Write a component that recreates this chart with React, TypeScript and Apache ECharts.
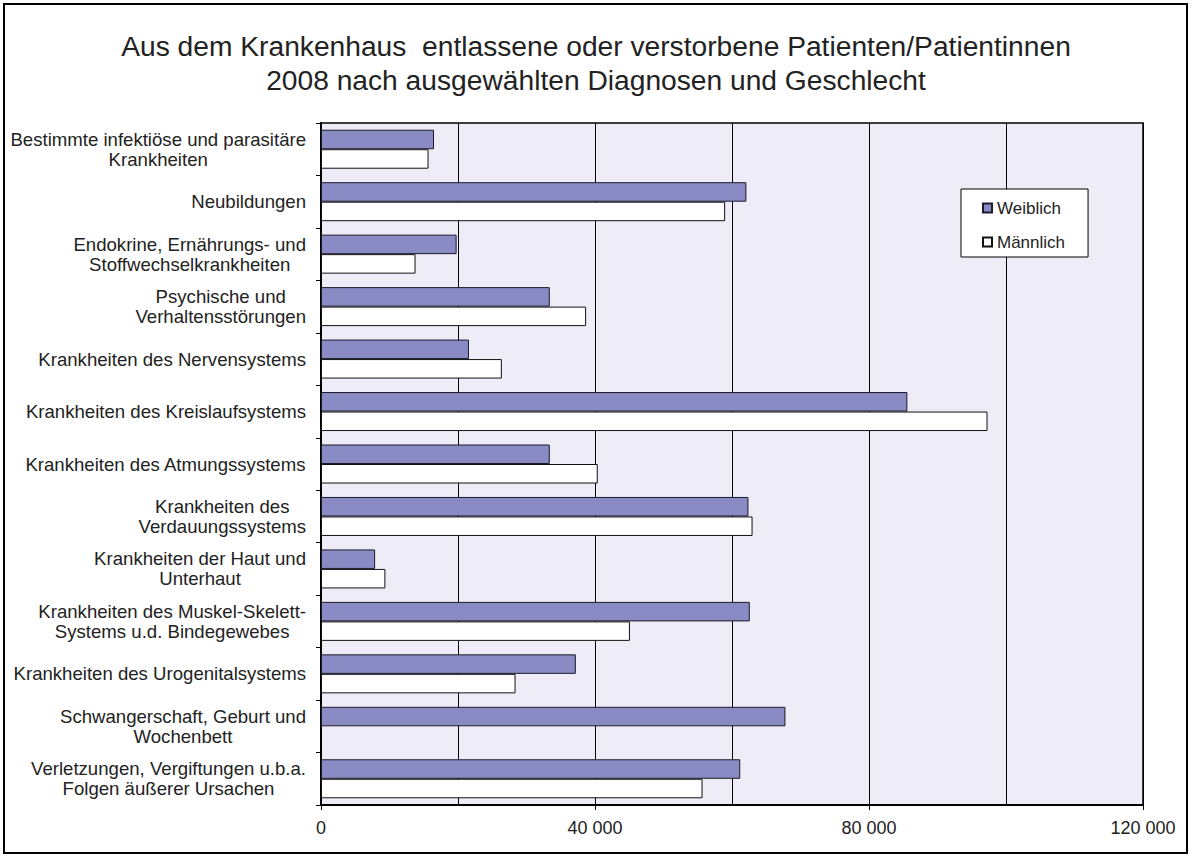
import React, { useEffect, useRef } from 'react';
import * as echarts from 'echarts';

const titleLines = [
  'Aus dem Krankenhaus  entlassene oder verstorbene Patienten/Patientinnen',
  '2008 nach ausgewählten Diagnosen und Geschlecht',
];

const categories = [
  'Bestimmte infektiöse und parasitäre\nKrankheiten',
  'Neubildungen',
  'Endokrine, Ernährungs- und\nStoffwechselkrankheiten',
  'Psychische und\nVerhaltensstörungen',
  'Krankheiten des Nervensystems',
  'Krankheiten des Kreislaufsystems',
  'Krankheiten des Atmungssystems',
  'Krankheiten des\nVerdauungssystems',
  'Krankheiten der Haut und\nUnterhaut',
  'Krankheiten des Muskel-Skelett-\nSystems u.d. Bindegewebes',
  'Krankheiten des Urogenitalsystems',
  'Schwangerschaft, Geburt und\nWochenbett',
  'Verletzungen, Vergiftungen u.b.a.\nFolgen äußerer Ursachen',
];

const seriesNames = ['Weiblich', 'Männlich'];
const weiblich = [16500, 62100, 19800, 33400, 21600, 85600, 33400, 62400, 7900, 62600, 37200, 67800, 61200];
const maennlich = [15700, 59000, 13800, 38700, 26400, 97300, 40400, 63000, 9400, 45100, 28400, null, 55700];

const xMin = 0;
const xMax = 120000;
const xLabelStep = 40000;

const fmt = (v: number) => String(v).replace(/\B(?=(\d{3})+(?!\d))/g, ' ');

export default function App() {
  const ref = useRef<HTMLDivElement>(null);
  useEffect(() => {
    const chart = echarts.init(ref.current!, null, { renderer: 'svg' });
    const font = '"Liberation Sans", Arial, sans-serif';
    const txt = '#222';
    chart.setOption({
      animation: false,
      backgroundColor: '#fff',
      title: {
        text: titleLines.join('\n'),
        left: 'center',
        top: 29,
        padding: 0,
        textStyle: { fontFamily: font, fontSize: 28.2, fontWeight: 'normal', color: txt, lineHeight: 34 },
      },
      graphic: [
        {
          type: 'rect',
          silent: true,
          z: 100,
          shape: { x: 4, y: 4, width: 1183, height: 849 },
          style: { fill: 'none', stroke: '#000', lineWidth: 2 },
        },
      ],
      legend: {
        orient: 'vertical',
        left: 961,
        top: 189,
        padding: [10, 23, 6, 21],
        backgroundColor: '#fff',
        borderColor: '#000',
        borderWidth: 1,
        itemGap: 16,
        itemWidth: 9,
        itemHeight: 9,
        itemTextGap: 4,
        icon: 'rect',
        data: seriesNames,
        textStyle: { fontFamily: font, fontSize: 17, lineHeight: 18, color: txt },
      },
      grid: {
        left: 321,
        right: 49,
        top: 123,
        bottom: 53,
        show: true,
        backgroundColor: '#EEEDF7',
        borderColor: '#000',
        borderWidth: 1.5,
        containLabel: false,
      },
      xAxis: {
        type: 'value',
        min: xMin,
        max: xMax,
        interval: xLabelStep,
        axisLine: { show: true, lineStyle: { color: '#000', width: 2 } },
        axisTick: { show: true, length: 5, lineStyle: { color: '#000' } },
        axisLabel: {
          margin: 14,
          fontFamily: font,
          fontSize: 18,
          color: txt,
          formatter: (v: number) => fmt(v),
        },
        splitLine: { show: true, lineStyle: { color: '#000', width: 1 } },
        minorTick: { show: false, splitNumber: 2 },
        minorSplitLine: { show: true, lineStyle: { color: '#000', width: 1 } },
      },
      yAxis: {
        type: 'category',
        inverse: true,
        data: categories,
        axisLine: { show: true, lineStyle: { color: '#000', width: 2 } },
        axisTick: { show: true, length: 5, lineStyle: { color: '#000' } },
        axisLabel: {
          margin: 15,
          align: 'right',
          interval: 0,
          formatter: (v: string) => v.split('\n').map((l) => `{c|${l}}`).join('\n'),
          rich: {
            c: { align: 'center', fontFamily: font, fontSize: 18.6, lineHeight: 20, color: txt },
          },
        },
        splitLine: { show: false },
      },
      series: [
        {
          name: seriesNames[0],
          type: 'bar',
          data: weiblich,
          barWidth: 19.5,
          barGap: '0%',
          itemStyle: { color: '#8A8BC4', borderColor: '#1a1a2a', borderWidth: 1 },
        },
        {
          name: seriesNames[1],
          type: 'bar',
          data: maennlich,
          barWidth: 19.5,
          barGap: '0%',
          itemStyle: { color: '#ffffff', borderColor: '#111', borderWidth: 1 },
        },
      ],
    });
    return () => chart.dispose();
  }, []);
  return (
    <div
      ref={ref}
      style={{ position: 'fixed', left: 0, top: 0, width: 1192, height: 858, background: '#fff' }}
    />
  );
}
